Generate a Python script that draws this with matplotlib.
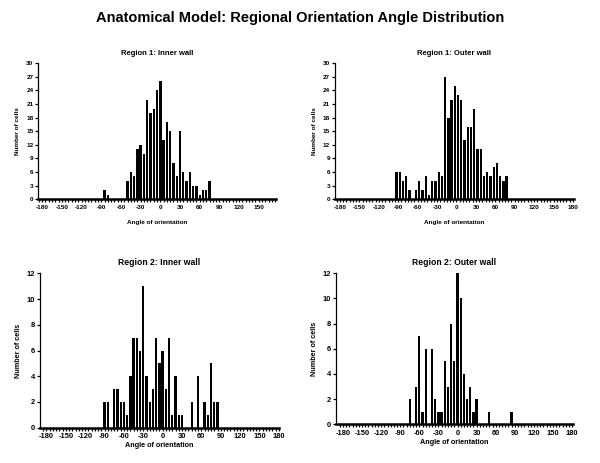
import numpy as np
import matplotlib as mpl
mpl.use('Agg')
import matplotlib.pyplot as plt

plt.rcParams['font.family'] = ['Liberation Sans', 'DejaVu Sans']
plt.rcParams['axes.unicode_minus'] = False

# bin centres (deg) and counts
r1_inner_angles = [-85, -80] + list(range(-50, 80, 5))
r1_inner_counts = [2, 1,
                   4, 6, 5, 11, 12, 10, 22, 19, 20, 24, 26, 13, 17, 15,
                   8, 5, 15, 6, 4, 6, 3, 3, 1, 2, 2, 4]

r1_outer_angles = list(np.arange(-92.5, 80, 5))
r1_outer_counts = [6, 6, 4, 5, 2, 0, 2, 4, 2, 5, 1, 4, 4, 6, 5, 27, 18, 22,
                   25, 23, 22, 13, 16, 16, 20, 11, 11, 5, 6, 5, 7, 8, 5, 4, 5]

r2_inner_angles = list(range(-90, 90, 5))
r2_inner_counts = [2, 2, 0, 3, 3, 2, 2, 1, 4, 7, 7, 6, 11, 4, 2, 3, 7, 5,
                   6, 3, 7, 1, 4, 1, 1, 0, 0, 2, 0, 4, 0, 2, 1, 5, 2, 2]

r2_outer_angles = list(range(-75, 90, 5))
r2_outer_counts = [2, 0, 3, 7, 1, 6, 0, 6, 2, 1, 1, 5, 3, 8, 5, 12, 10, 4,
                   2, 3, 1, 2, 0, 0, 0, 1, 0, 0, 0, 0, 0, 0, 1]

titles = ['Region 1: Inner wall', 'Region 1: Outer wall',
          'Region 2: Inner wall', 'Region 2: Outer wall']
xlabel = 'Angle of orientation'
ylabel = 'Number of cells'
major_ticks = list(range(-180, 181, 30))


def draw(ax, angles, counts, title, ymax, ystep, xlim, fs, tfs, lfs,
         ylab_x, xlab_pad):
    ax.bar(angles, counts, width=3.6, color='black', linewidth=0)
    ax.spines['top'].set_visible(False)
    ax.spines['right'].set_visible(False)
    ax.spines['bottom'].set_linewidth(1.8)
    ax.spines['left'].set_linewidth(0.9)
    ax.set_xticks(major_ticks)
    ax.set_xticks(range(-185, 181, 5), minor=True)
    ax.set_yticks(range(0, ymax + 1, ystep))
    ax.set_xlim(*xlim)
    ax.set_ylim(0, ymax)
    ax.tick_params(axis='x', which='both', direction='out', length=2.5,
                   width=0.9, labelsize=fs, pad=1.5)
    ax.tick_params(axis='y', direction='out', length=2.5, width=0.9,
                   labelsize=fs, pad=1)
    for lab in ax.get_xticklabels() + ax.get_yticklabels():
        lab.set_fontweight('bold')
    ax.set_title(title, fontsize=tfs, fontweight='bold', pad=6)
    ax.set_xlabel(xlabel, fontsize=lfs, fontweight='bold', labelpad=xlab_pad)
    ax.set_ylabel(ylabel, fontsize=lfs, fontweight='bold')
    ax.yaxis.set_label_coords(ylab_x, 0.5)


fig = plt.figure(figsize=(6.0, 4.63), dpi=100)

ax1 = fig.add_axes([0.0638, 0.570, 0.397, 0.2932])
draw(ax1, r1_inner_angles, r1_inner_counts, titles[0], 30, 3, (-186, 177),
     4.6, 5.5, 4.6, -0.075, 7.5)

ax2 = fig.add_axes([0.558, 0.570, 0.398, 0.2932])
draw(ax2, r1_outer_angles, r1_outer_counts, titles[1], 30, 3, (-188, 181),
     4.6, 5.5, 4.6, -0.073, 7.5)

ax3 = fig.add_axes([0.0667, 0.0762, 0.398, 0.3335])
draw(ax3, r2_inner_angles, r2_inner_counts, titles[2], 12, 2, (-190, 180),
     5.4, 6.2, 5.2, -0.075, 1.5)

ax4 = fig.add_axes([0.56, 0.0836, 0.3945, 0.3261])
draw(ax4, r2_outer_angles, r2_outer_counts, titles[3], 12, 2, (-191, 181),
     5.4, 6.2, 5.2, -0.075, 1.5)

fig.text(0.5, 0.962, 'Anatomical Model: Regional Orientation Angle Distribution',
         ha='center', va='center', fontsize=10.5, fontweight='bold')

fig.savefig('out.png', dpi=100)
